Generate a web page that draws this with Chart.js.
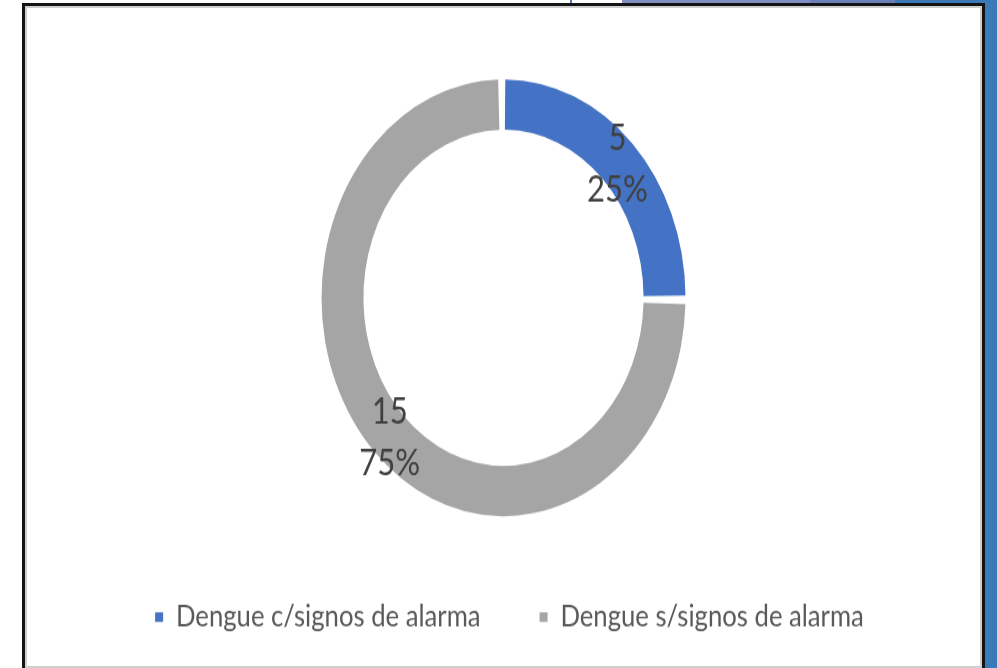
<!DOCTYPE html>
<html>
<head>
<meta charset="utf-8">
<script src="https://cdn.jsdelivr.net/npm/chart.js@4/dist/chart.umd.min.js"></script>
<style>
  html, body { margin: 0; padding: 0; background: #ffffff; width: 997px; height: 668px; overflow: hidden; position: relative; }
  .strip { position: absolute; }
  #frame { position: absolute; left: 22px; top: 3px; width: 963px; height: 668px; box-sizing: border-box;
           border: 3px solid #141414; background: #ffffff; box-shadow: inset 0 0 0 2px #cfcfcf; }
  #clip { position: absolute; left: 25px; top: 6px; width: 957px; height: 662px; overflow: hidden; }
  #stretch { transform: scaleY(1.2); transform-origin: 0 0; width: 957px; height: 532px; }
</style>
</head>
<body>
<div class="strip" style="left:985px;top:0;width:12px;height:668px;background:#3b7ab8;"></div>
<div class="strip" style="left:622px;top:0;width:188px;height:4px;background:#7e8ec3;"></div>
<div class="strip" style="left:810px;top:0;width:85px;height:4px;background:#6a7eb8;"></div>
<div class="strip" style="left:895px;top:0;width:102px;height:4px;background:#3b78b6;"></div>
<div class="strip" style="left:570px;top:0;width:2px;height:4px;background:#5a6fae;"></div>
<div id="frame"></div>
<div id="clip"><div id="stretch"><canvas id="c" width="957" height="532"></canvas></div></div>
<script>
const categories = ["Dengue c/signos de alarma", "Dengue s/signos de alarma"];
const values = [5, 15];
const percentLabels = ["25%", "75%"];
const colors = ["#4472C4", "#A5A5A5"];

const sliceLabels = {
  id: "sliceLabels",
  afterDatasetsDraw(chart) {
    const ctx = chart.ctx;
    const meta = chart.getDatasetMeta(0);
    ctx.save();
    ctx.font = "31px Lato";
    ctx.fillStyle = "#404040";
    ctx.textAlign = "center";
    ctx.textBaseline = "middle";
    meta.data.forEach((arc, i) => {
      const p = arc.tooltipPosition();
      ctx.fillText(String(values[i]), p.x, p.y - 19);
      ctx.fillText(percentLabels[i], p.x, p.y + 24);
    });
    ctx.restore();
  }
};

const legendShift = {
  id: "legendShift",
  afterLayout(chart) {
    if (chart.legend) { chart.legend.left += 6; chart.legend.right += 6; }
  }
};

new Chart(document.getElementById("c"), {
  type: "doughnut",
  data: {
    labels: categories,
    datasets: [{
      data: values,
      backgroundColor: colors,
      borderWidth: 0,
      spacing: 4,
      radius: 180,
      cutout: "76.7%",
      hoverOffset: 0
    }]
  },
  options: {
    responsive: false,
    animation: false,
    devicePixelRatio: 1,
    events: [],
    layout: { padding: { top: 49, left: 0, right: 0, bottom: 0 } },
    plugins: {
      tooltip: { enabled: false },
      legend: {
        position: "bottom",
        labels: {
          boxWidth: 8,
          boxHeight: 8,
          padding: 59,
          color: "#595959",
          font: { family: "Lato", size: 25.7 }
        }
      }
    }
  },
  plugins: [sliceLabels, legendShift]
});
</script>
</body>
</html>
